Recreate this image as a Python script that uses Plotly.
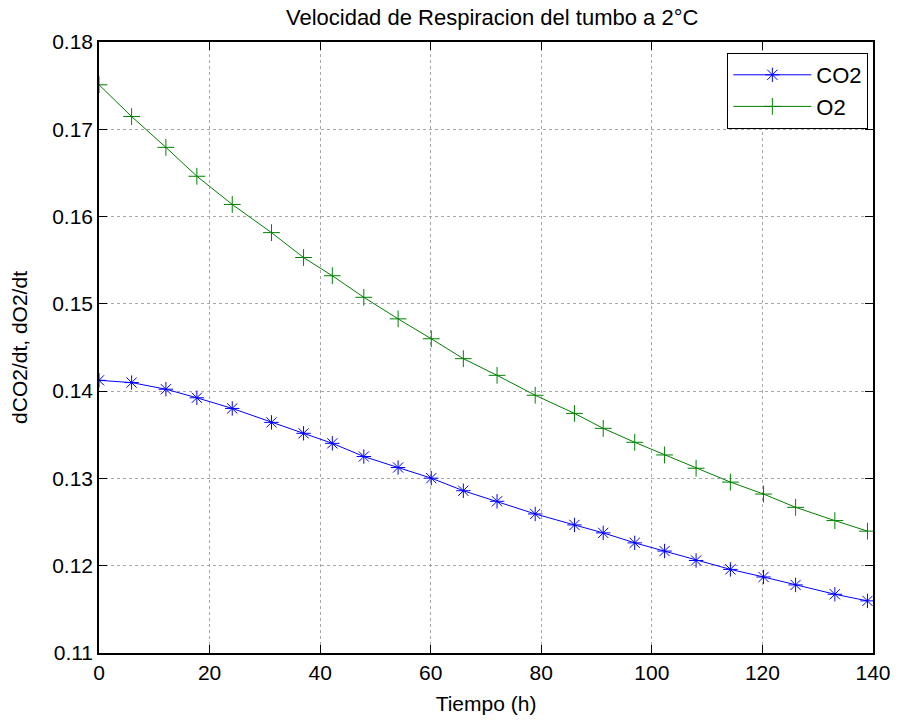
import plotly.graph_objects as go

t_co2 = [0, 5.9, 12.1, 17.7, 24.1, 31.2, 37.0, 42.2, 47.9, 54.1, 60.1, 65.9, 72.0, 78.9,
         86.0, 91.2, 96.9, 102.3, 108.0, 114.2, 120.2, 126.0, 133.1, 139.0]
co2 = [0.14124, 0.14098, 0.14022, 0.13924, 0.13802, 0.13642, 0.13517, 0.13402, 0.13251,
       0.13125, 0.13003, 0.12859, 0.12738, 0.12593, 0.12467, 0.12376, 0.12262, 0.12168,
       0.12060, 0.11958, 0.11871, 0.11780, 0.11673, 0.11597]
t_o2 = t_co2
o2 = [0.17510, 0.17146, 0.16793, 0.16462, 0.16139, 0.15816, 0.15531, 0.15322, 0.15075,
      0.14828, 0.14600, 0.14372, 0.14181, 0.13953, 0.13745, 0.13574, 0.13414, 0.13269,
      0.13117, 0.12958, 0.12821, 0.12669, 0.12517, 0.12396]

FONT = "Liberation Sans, Arial, sans-serif"

fig = go.Figure()
fig.add_trace(go.Scatter(x=t_co2, y=co2, name="CO2", mode="lines+markers",
                         line=dict(color="rgb(0,0,255)", width=1),
                         marker=dict(symbol="asterisk-open", size=12,
                                     line=dict(color="rgb(0,0,255)", width=1))))
fig.add_trace(go.Scatter(x=t_o2, y=o2, name="O2", mode="lines+markers",
                         line=dict(color="rgb(0,128,0)", width=1),
                         marker=dict(symbol="cross-thin-open", size=12,
                                     line=dict(color="rgb(0,128,0)", width=1))))

axis_common = dict(showline=True, linecolor="black", linewidth=1.5, mirror="ticks",
                   ticks="inside", ticklen=8, tickwidth=1, tickcolor="black",
                   showgrid=True, gridcolor="#a8a8a8", griddash="dot", gridwidth=1,
                   zeroline=False, tickfont=dict(family=FONT, size=21, color="black"))

fig.update_xaxes(range=[0, 140], dtick=20, tick0=0,
                 title=dict(text="Tiempo (h)", font=dict(family=FONT, size=21, color="black"), standoff=13),
                 **axis_common)
fig.update_yaxes(range=[0.11, 0.18], dtick=0.01, tick0=0.11, tickformat=".2f",
                 title=dict(text="dCO2/dt, dO2/dt", font=dict(family=FONT, size=21, color="black"), standoff=19),
                 **axis_common)

fig.update_layout(
    width=903, height=724,
    margin=dict(l=99, r=24, t=42, b=68),
    paper_bgcolor="white", plot_bgcolor="white",
    title=dict(text="Velocidad de Respiracion del tumbo a 2°C", x=0.545, xanchor="center",
               y=1 - 17 / 724, yanchor="middle", yref="container",
               font=dict(family=FONT, size=22, color="black")),
    legend=dict(x=0.994, xanchor="right", y=0.982, yanchor="top",
                bordercolor="black", borderwidth=1, bgcolor="white",
                itemwidth=78, font=dict(family=FONT, size=22, color="black")),
    showlegend=True,
)

fig.write_html("out.html")
